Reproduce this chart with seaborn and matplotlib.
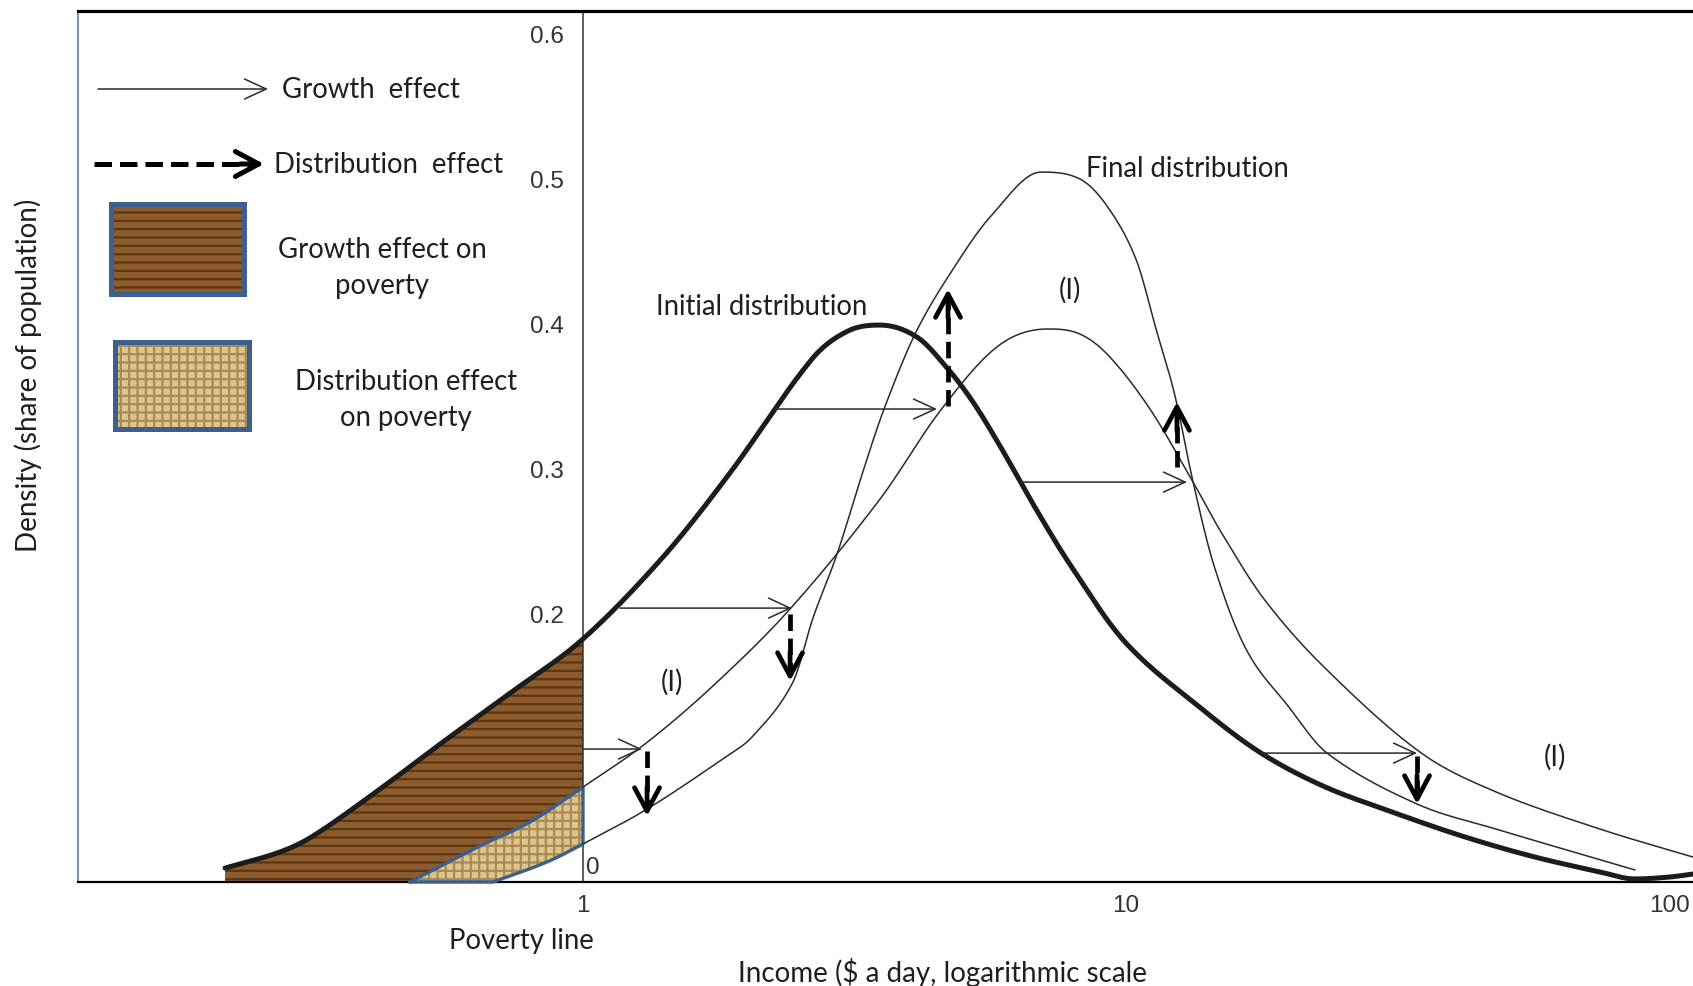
import numpy as np
import pandas as pd
import matplotlib
matplotlib.use("Agg")
import matplotlib.pyplot as plt
import seaborn as sns
from matplotlib.patches import Rectangle
from matplotlib.lines import Line2D
from matplotlib.ticker import NullLocator

# ---------------- data ----------------
poverty_line = 1.0

init_x = [0.2192, 0.2767, 0.3183, 0.4228, 0.5617, 0.7433, 1.0, 1.404, 1.865, 2.641,
          3.076, 3.524, 4.122, 4.701, 5.227, 5.861, 6.827, 7.920, 9.958, 13.80,
          17.73, 23.06, 30.90, 41.57, 55.70, 74.64, 86.56, 100.0, 110.7]
init_y = [0.0241, 0.0352, 0.0462, 0.0786, 0.1131, 0.1462, 0.1821, 0.2386, 0.2966, 0.3752,
          0.3945, 0.3986, 0.3903, 0.3683, 0.3455, 0.3152, 0.2717, 0.2324, 0.1800, 0.1338,
          0.1034, 0.0807, 0.0628, 0.0462, 0.0324, 0.0214, 0.0166, 0.0179, 0.0200]

inter_x = [0.4801, 0.6458, 0.7990, 1.0, 1.301, 1.735, 2.406, 3.524, 4.545, 5.811,
           7.185, 8.228, 9.305, 11.07, 13.29, 14.96, 17.95, 23.06, 34.78, 48.03,
           74.64, 110.7]
inter_y = [0.0145, 0.0393, 0.0559, 0.0800, 0.1097, 0.1497, 0.2028, 0.2786, 0.3393, 0.3841,
           0.3959, 0.3924, 0.3772, 0.3407, 0.2903, 0.2559, 0.2097, 0.1634, 0.1041, 0.0766,
           0.0510, 0.0317]

final_x = [0.6827, 0.8584, 1.0, 1.312, 1.842, 2.056, 2.436, 2.652, 2.937, 3.280,
           3.584, 4.105, 4.843, 5.641, 6.975, 8.228, 9.227, 10.43, 11.40, 12.31,
           13.29, 14.53, 16.63, 19.88, 23.45, 34.35, 48.03, 86.56]
final_y = [0.0145, 0.0283, 0.0407, 0.0648, 0.1014, 0.1152, 0.1524, 0.1966, 0.2407, 0.2979,
           0.3407, 0.3938, 0.4393, 0.4738, 0.5041, 0.4993, 0.4807, 0.4441, 0.3938, 0.3497,
           0.2903, 0.2324, 0.1752, 0.1359, 0.1034, 0.0683, 0.0510, 0.0228]

# growth effect arrows (horizontal): level, start income, end income
growth_y = [0.1062, 0.2034, 0.3407, 0.2903, 0.1034]
growth_x0 = [1.0, 1.170, 2.250, 6.407, 17.73]
growth_x1 = [1.284, 2.426, 4.487, 12.95, 34.35]

# distribution effect arrows (vertical): income, start density, end density
dist_x = [1.312, 2.406, 4.701, 12.41, 34.35]
dist_y0 = [0.1048, 0.1993, 0.3428, 0.3007, 0.1014]
dist_y1 = [0.0600, 0.1531, 0.4234, 0.3455, 0.0683]

xticks = [1, 10, 100]
xtick_labels = ["1", "10", "100"]
yticks = [0.2, 0.3, 0.4, 0.5, 0.6]
ytick_labels = ["0.2", "0.3", "0.4", "0.5", "0.6"]


# ---------------- smooth rendering through the read points (cubic Hermite, log-x) ----------------
def smooth(xs, ys, n=600):
    u = np.log10(np.asarray(xs, float))
    y = np.asarray(ys, float)
    h = np.diff(u)
    d = np.diff(y) / h
    m = np.zeros_like(y)
    m[0], m[-1] = d[0], d[-1]
    for k in range(1, len(y) - 1):
        m[k] = (y[k + 1] - y[k - 1]) / (u[k + 1] - u[k - 1])
        if d[k - 1] * d[k] <= 0:
            m[k] = 0.0
    grid = np.union1d(np.linspace(u[0], u[-1], n), u)
    idx = np.clip(np.searchsorted(u, grid, side="right") - 1, 0, len(u) - 2)
    t = (grid - u[idx]) / h[idx]
    h00 = 2 * t**3 - 3 * t**2 + 1
    h10 = t**3 - 2 * t**2 + t
    h01 = -2 * t**3 + 3 * t**2
    h11 = t**3 - t**2
    yy = h00 * y[idx] + h10 * h[idx] * m[idx] + h01 * y[idx + 1] + h11 * h[idx] * m[idx + 1]
    return pd.DataFrame({"income": 10**grid, "density": yy})


# ---------------- style ----------------
sns.set_theme(style="white")
plt.rcParams["font.family"] = ["Lato", "DejaVu Sans"]
plt.rcParams["hatch.linewidth"] = 1.6

W, H = 1693, 987
fig = plt.figure(figsize=(W / 100, H / 100), dpi=100)
ax = fig.add_axes([78 / W, 1 - 883 / H, (W - 78) / W, (883 - 12) / H])


def F(x, y):
    return (x / W, 1 - y / H)


ax.set_xscale("log")
ax.set_xlim(0.1175, 110.7)
ax.set_ylim(0.0145, 0.6152)
base = ax.get_ylim()[0]

INK = "#1c1c1c"
THIN = "#2a2a2a"
BLUE = "#3d5f8f"
WOOD = "#8e5c2c"
WOOD_H = "#5c3716"
BURL = "#dcc48f"
BURL_H = "#a98a52"
TXT = "#1f1f1f"
FS = 19.8

s_init = smooth(init_x, init_y)
s_int = smooth(inter_x, inter_y)
s_fin = smooth(final_x, final_y)

eps = 1e-9
il = s_init[s_init.income <= poverty_line + eps]
ml = s_int[s_int.income <= poverty_line + eps]
fl = s_fin[s_fin.income <= poverty_line + eps]
mr = s_int[s_int.income >= poverty_line - eps]
fr = s_fin[s_fin.income >= poverty_line - eps]

# poverty areas
wood_x = list(il.income) + list(ml.income[::-1]) + [il.income.iloc[0]]
wood_y = list(il.density) + list(ml.density[::-1]) + [base]
ax.fill(wood_x, wood_y, facecolor=WOOD, edgecolor=WOOD_H, hatch="--", lw=0, zorder=1)

burl_x = list(ml.income) + list(fl.income[::-1])
burl_y = list(ml.density) + list(fl.density[::-1])
ax.fill(burl_x, burl_y, facecolor=BURL, edgecolor=BURL_H, hatch="++", lw=0, zorder=2)
ax.plot(burl_x + [burl_x[0]], burl_y + [burl_y[0]], color=BLUE, lw=2.4,
        solid_joinstyle="round", zorder=3, clip_on=False)

# curves
sns.lineplot(data=mr, x="income", y="density", ax=ax, color=THIN, lw=1.1,
             estimator=None, sort=False, zorder=4)
sns.lineplot(data=fr, x="income", y="density", ax=ax, color=THIN, lw=1.1,
             estimator=None, sort=False, zorder=4)
sns.lineplot(data=s_init, x="income", y="density", ax=ax, color=INK, lw=3.6,
             estimator=None, sort=False, zorder=5)

# growth arrows
for gy, x0, x1 in zip(growth_y, growth_x0, growth_x1):
    ax.annotate("", xy=(x1, gy), xytext=(x0, gy),
                arrowprops=dict(arrowstyle="->,head_length=1.3,head_width=0.6",
                                lw=1.1, color=THIN, shrinkA=0, shrinkB=0),
                zorder=6)

# distribution arrows
for dx, y0, y1 in zip(dist_x, dist_y0, dist_y1):
    s = np.sign(y1 - y0)
    ax.plot([dx, dx], [y0, y1 - s * 0.010], color="black", lw=3.4,
            linestyle=(0, (3.5, 1.6)), zorder=7, solid_capstyle="butt")
    ax.annotate("", xy=(dx, y1), xytext=(dx, y1 - s * 0.02),
                arrowprops=dict(arrowstyle="->,head_length=1.4,head_width=0.75",
                                lw=3.4, color="black", shrinkA=0, shrinkB=0),
                zorder=7)

# axes styling
ax.spines["left"].set_position(("data", poverty_line))
ax.spines["left"].set_color("#333333")
ax.spines["left"].set_linewidth(1.1)
ax.spines["right"].set_visible(False)
ax.spines["top"].set_color("black")
ax.spines["top"].set_linewidth(2.3)
ax.spines["bottom"].set_color("black")
ax.spines["bottom"].set_linewidth(1.6)
ax.axvline(ax.get_xlim()[0], color="#5d7db0", lw=1.2, clip_on=False)

ax.xaxis.set_minor_locator(NullLocator())
ax.set_xticks(xticks, xtick_labels)
ax.set_yticks(yticks, ytick_labels)
ax.tick_params(axis="both", length=0, labelcolor="#333333", labelsize=17.5)
ax.tick_params(axis="y", pad=14)
ax.tick_params(axis="x", pad=9)
for t in ax.get_xticklabels() + ax.get_yticklabels():
    t.set_family(["Liberation Sans", "DejaVu Sans"])
ax.text(1.043, 0.0248, "0", ha="center", va="center", fontsize=17.5,
        color="#333333", family=["Liberation Sans", "DejaVu Sans"])

ax.set_ylabel("")
ax.set_xlabel("Income ($ a day, logarithmic scale", fontsize=20, color=TXT)
ax.xaxis.set_label_coords(0.535, -0.086)

ax.text(2.137, 0.4117, "Initial distribution", fontsize=FS, ha="center", va="center", color=TXT)
ax.text(12.95, 0.5069, "Final distribution", fontsize=FS, ha="center", va="center", color=TXT)
ax.text(7.886, 0.4234, "(I)", fontsize=FS, ha="center", va="center", color=TXT)
ax.text(1.458, 0.1531, "(I)", fontsize=FS, ha="center", va="center", color=TXT)
ax.text(61.7, 0.1014, "(I)", fontsize=FS, ha="center", va="center", color=TXT)

fig.text(*F(521, 941), "Poverty line", fontsize=FS, ha="center", va="center", color=TXT)
fig.text(*F(28, 375), "Density (share of population)", fontsize=20, rotation=90,
         ha="center", va="center", color=TXT)

# legend (drawn in figure coordinates)
ax.annotate("", xy=F(268, 90), xytext=F(98, 90), xycoords="figure fraction",
            textcoords="figure fraction",
            arrowprops=dict(arrowstyle="->,head_length=1.3,head_width=0.6",
                            lw=1.1, color=THIN, shrinkA=0, shrinkB=0))
fig.text(*F(282, 90), "Growth  effect", fontsize=FS, ha="left", va="center", color=TXT)

fig.add_artist(Line2D([94 / W, 250 / W], [1 - 165 / H, 1 - 165 / H], color="black",
                      lw=3.6, linestyle=(0, (3.5, 1.6)), transform=fig.transFigure))
ax.annotate("", xy=F(264, 165), xytext=F(240, 165), xycoords="figure fraction",
            textcoords="figure fraction",
            arrowprops=dict(arrowstyle="->,head_length=1.4,head_width=0.75",
                            lw=3.6, color="black", shrinkA=0, shrinkB=0))
fig.text(*F(274, 165), "Distribution  effect", fontsize=FS, ha="left", va="center", color=TXT)

fig.add_artist(Rectangle(F(111, 295), 133 / W, 90 / H, transform=fig.transFigure,
                         facecolor=WOOD, edgecolor=WOOD_H, hatch="--", lw=0))
fig.add_artist(Rectangle(F(111, 295), 133 / W, 90 / H, transform=fig.transFigure,
                         facecolor="none", edgecolor=BLUE, lw=3.6))
fig.text(*F(382, 268), "Growth effect on\npoverty", fontsize=FS, ha="center",
         va="center", color=TXT, linespacing=1.45)

fig.add_artist(Rectangle(F(115, 430), 134 / W, 87 / H, transform=fig.transFigure,
                         facecolor=BURL, edgecolor=BURL_H, hatch="++", lw=0))
fig.add_artist(Rectangle(F(115, 430), 134 / W, 87 / H, transform=fig.transFigure,
                         facecolor="none", edgecolor=BLUE, lw=3.6))
fig.text(*F(406, 400), "Distribution effect\non poverty", fontsize=FS, ha="center",
         va="center", color=TXT, linespacing=1.45)

fig.savefig("out.png", dpi=100)
